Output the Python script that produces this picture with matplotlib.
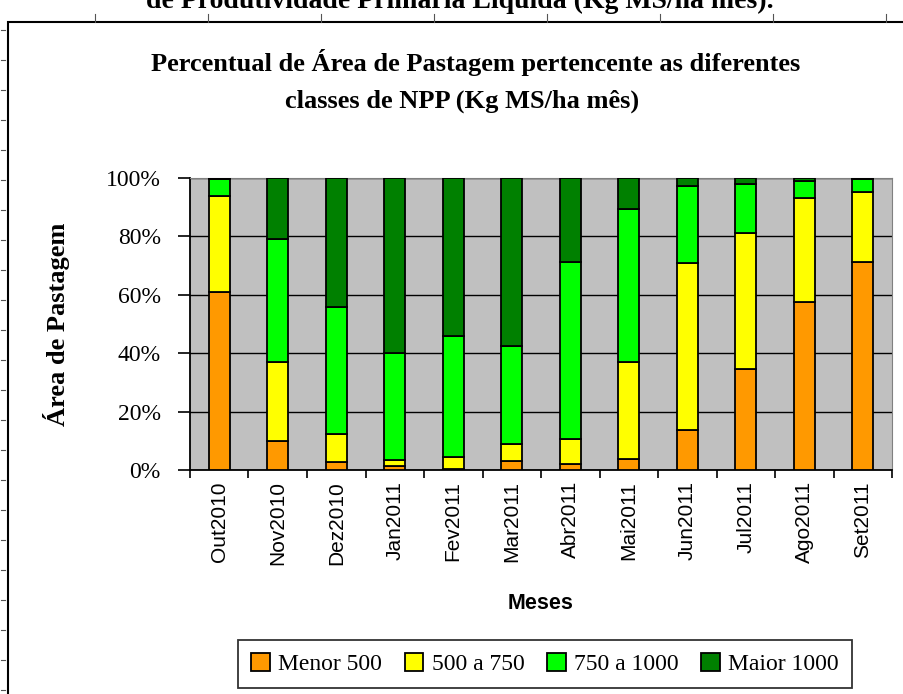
import matplotlib.pyplot as plt
import numpy as np
from matplotlib.patches import Rectangle
from matplotlib.lines import Line2D

meses = ["Out2010", "Nov2010", "Dez2010", "Jan2011", "Fev2011", "Mar2011",
         "Abr2011", "Mai2011", "Jun2011", "Jul2011", "Ago2011", "Set2011"]
classes = ["Menor 500", "500 a 750", "750 a 1000", "Maior 1000"]
cores = ["#FF9900", "#FFFF00", "#00FF00", "#008000"]

# percent of pasture area per NPP class
menor_500 = [61.0, 10.0, 2.7, 1.5, 0.3, 3.1, 2.0, 3.9, 13.7, 34.6, 57.4, 71.3]
de_500_750 = [33.0, 27.0, 9.6, 1.8, 4.3, 5.7, 8.5, 33.0, 57.1, 46.4, 35.6, 24.0]
de_750_1000 = [5.5, 42.0, 43.4, 36.9, 41.4, 33.8, 60.8, 52.5, 26.5, 16.9, 6.1, 4.2]
maior_1000 = [0.5, 21.0, 44.3, 59.8, 54.0, 57.4, 28.7, 10.6, 2.7, 2.1, 0.9, 0.5]

series = [menor_500, de_500_750, de_750_1000, maior_1000]

serif = "Liberation Serif"
sans = "Liberation Sans"

fig = plt.figure(figsize=(9.04, 6.94), dpi=100)

# document frame and ruler ticks around the pasted chart
fig.patches.append(Rectangle((8 / 904, -0.01), 1.0, 1 - 22 / 694 + 0.01,
                             transform=fig.transFigure, fill=False,
                             edgecolor="black", linewidth=1.5))
for xr in range(95, 904, 113):
    fig.add_artist(Line2D([xr / 904, xr / 904], [1 - 14 / 694, 1 - 22 / 694],
                          transform=fig.transFigure, color="#555555", lw=0.8))
for yr in range(30, 694, 30):
    fig.add_artist(Line2D([1 / 904, 5 / 904], [1 - yr / 694, 1 - yr / 694],
                          transform=fig.transFigure, color="#555555", lw=0.8))

fig.text(460 / 904, 1 - 1 / 694, "de Produtividade Primária Líquida (Kg MS/ha mês).",
         ha="center", va="center", fontsize=20, fontweight="bold", family=serif)

ax = fig.add_axes([190 / 904, 1 - 470 / 694, 702 / 904, 292 / 694])
ax.set_facecolor("#C0C0C0")

x = np.arange(len(meses))
base = np.zeros(len(meses))
for vals, nome, cor in zip(series, classes, cores):
    ax.bar(x, vals, bottom=base, width=0.36, color=cor, edgecolor="black",
           linewidth=1.3, label=nome, zorder=3)
    base += np.array(vals)

ax.set_xlim(-0.5, len(meses) - 0.5)
ax.set_ylim(0, 100)
ax.set_yticks(np.arange(0, 101, 20))
ax.set_yticklabels([f"{v}%" for v in range(0, 101, 20)], family=serif, fontsize=17)
ax.yaxis.grid(True, color="black", linewidth=1.0, zorder=1)
ax.set_axisbelow(True)

ax.set_xticks(x)
ax.set_xticklabels(meses, rotation=90, family=sans, fontsize=15)
ax.set_xticks(np.arange(-0.5, len(meses), 1), minor=True)
ax.tick_params(axis="x", which="major", length=0, pad=8)
ax.tick_params(axis="x", which="minor", length=6, width=1.2, direction="out")
ax.tick_params(axis="y", length=9, width=1.2, direction="out", pad=12)

for s in ["left", "bottom"]:
    ax.spines[s].set_linewidth(1.3)
for s in ["top", "right"]:
    ax.spines[s].set_color("#808080")

ax.set_xlabel("Meses", family=sans, fontsize=15.5, fontweight="bold", labelpad=20)
ax.set_ylabel("Área de Pastagem", family=serif, fontsize=19, fontweight="bold",
              labelpad=26)

fig.text(476 / 904, 1 - 62 / 694,
         "Percentual de Área de Pastagem pertencente as diferentes",
         ha="center", va="center", fontsize=19, fontweight="bold", family=serif)
fig.text(462 / 904, 1 - 101 / 694, "classes de NPP (Kg MS/ha mês)",
         ha="center", va="center", fontsize=19, fontweight="bold", family=serif)

leg = fig.legend(loc="center", bbox_to_anchor=(545 / 904, 1 - 664 / 694), ncol=4,
                 prop={"family": serif, "size": 17}, frameon=True, fancybox=False,
                 edgecolor="black", handlelength=0.8, handleheight=0.8,
                 handletextpad=0.35, columnspacing=0.95, borderpad=0.55)
leg.get_frame().set_linewidth(1.3)

fig.savefig("out.png", dpi=100)
